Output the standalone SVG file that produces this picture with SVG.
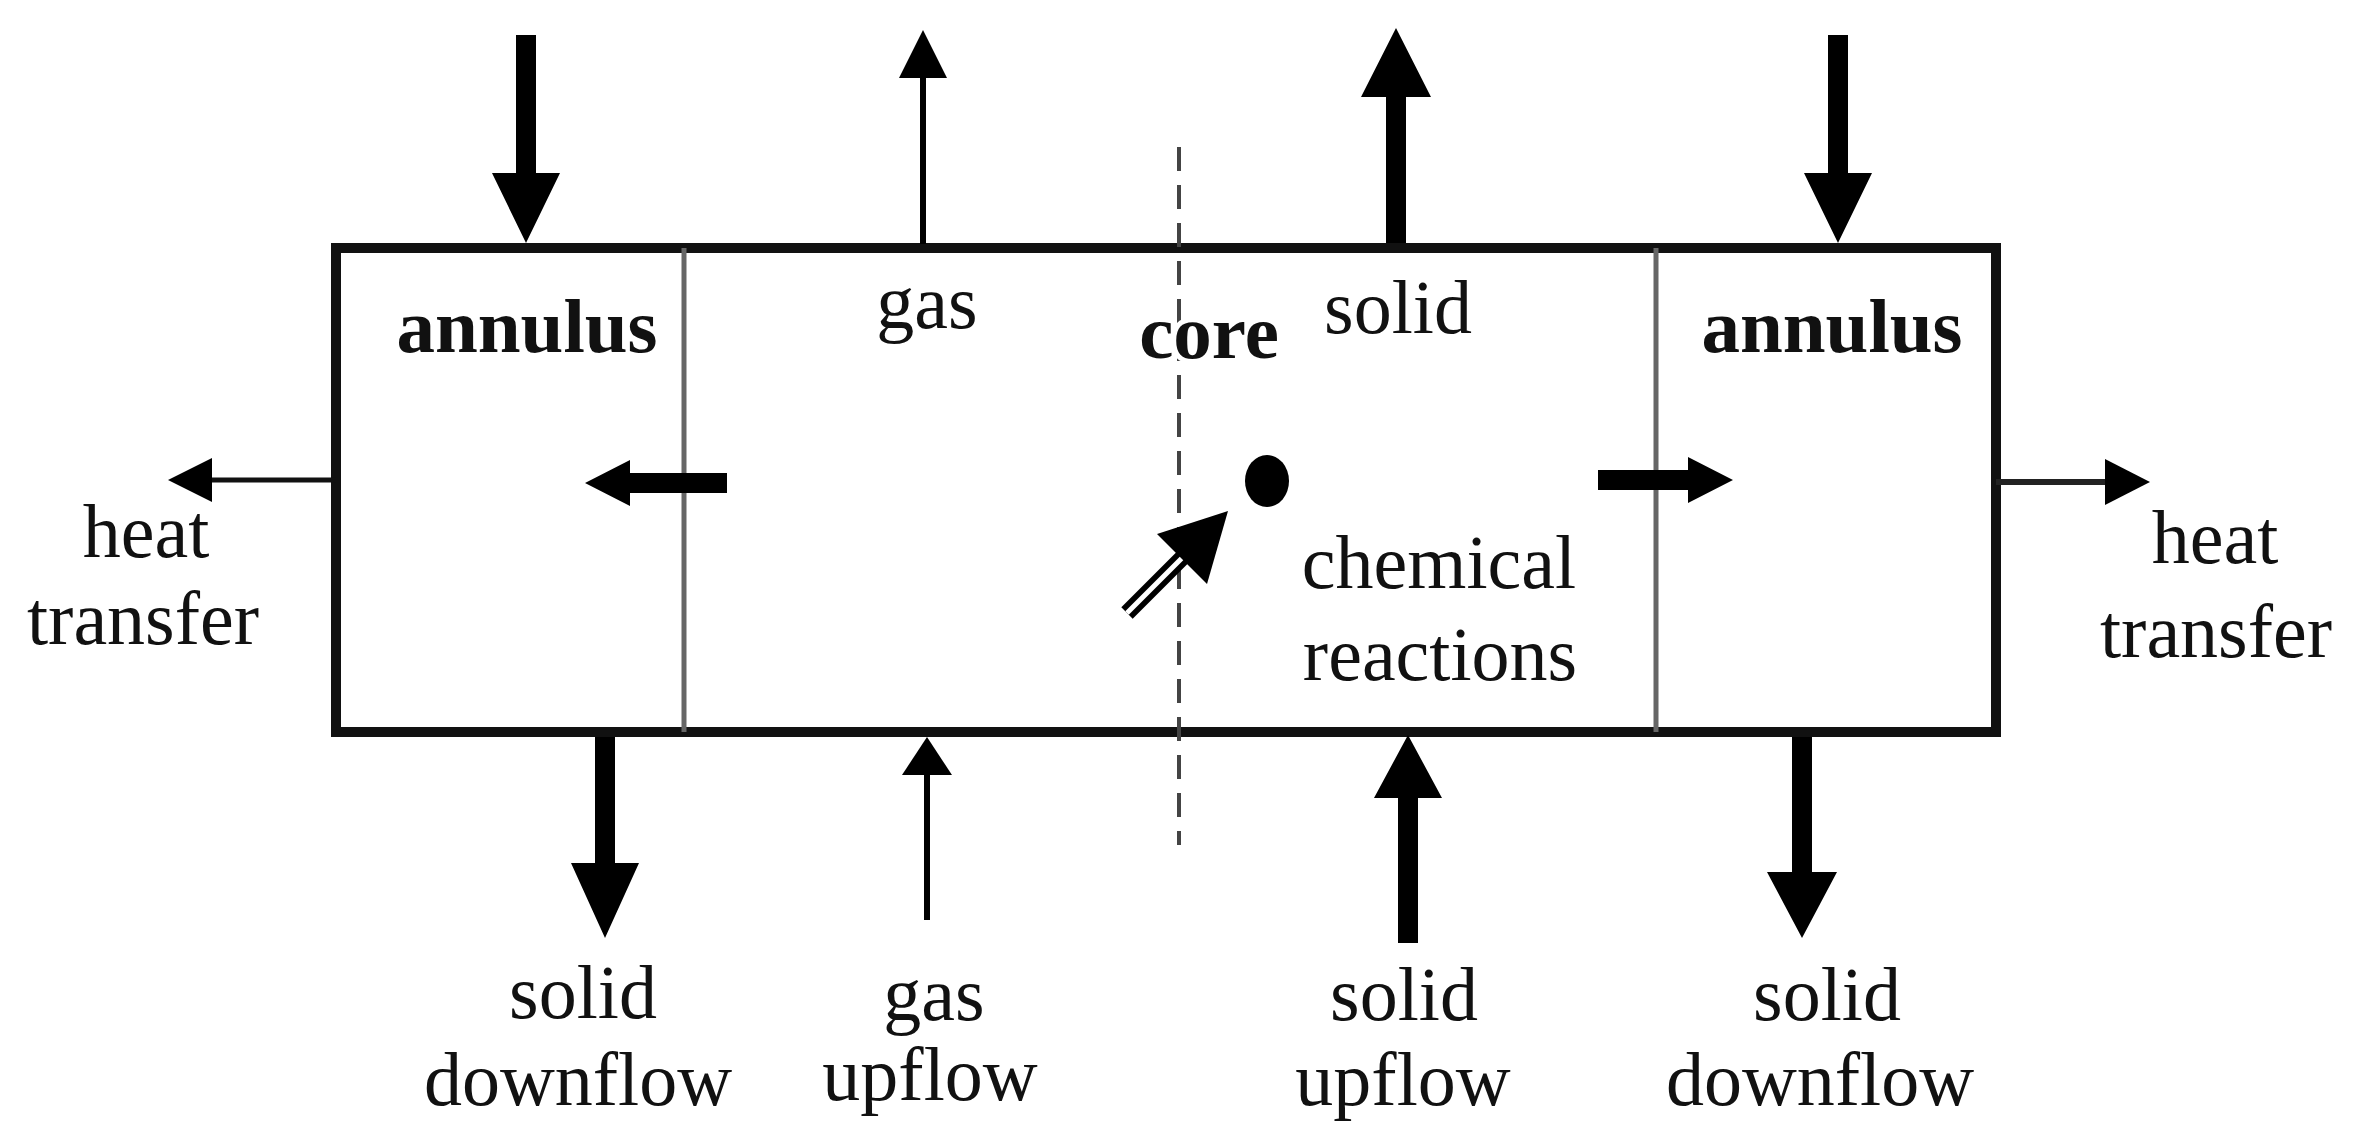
<svg xmlns="http://www.w3.org/2000/svg" width="2360" height="1147" viewBox="0 0 2360 1147">
<style>
  .t { font-family: "Liberation Serif", "Times New Roman", serif; font-size: 76px; fill: #111; text-anchor: middle; }
  .b { font-weight: bold; font-size: 77px; }
  .halo { stroke: #fff; stroke-width: 10px; paint-order: stroke; stroke-linejoin: round; }
  .ar { fill: #000; stroke: none; }
  .thin { stroke: #000; stroke-width: 6; fill: none; }
  .div { stroke: #666; stroke-width: 5; }
</style>
<rect width="2360" height="1147" fill="#fff"/>

<g id="reactor">
  <rect x="336" y="248" width="1660" height="484" fill="none" stroke="#111" stroke-width="10"/>
  <line class="div" x1="684" y1="248" x2="684" y2="732"/>
  <line class="div" x1="1656" y1="248" x2="1656" y2="732"/>
  <line x1="1179" y1="147" x2="1179" y2="845" stroke="#444" stroke-width="4" stroke-dasharray="24 14"/>
</g>

<g id="annulus-left"><text class="t b" x="527" y="352">annulus</text></g>
<g id="annulus-right"><text class="t b" x="1832" y="352">annulus</text></g>
<g id="core"><text class="t b halo" x="1209" y="358">core</text></g>
<g id="gas-label"><text class="t" x="927" y="328">gas</text></g>
<g id="solid-label"><text class="t" x="1398" y="333">solid</text></g>
<g id="chemical-reactions">
  <ellipse cx="1267" cy="481" rx="22" ry="26" fill="#000"/>
  <text class="t" x="1439" y="588">chemical</text>
  <text class="t" x="1440" y="680">reactions</text>
</g>
<g id="heat-left">
  <text class="t" x="146" y="557">heat</text>
  <text class="t" x="143" y="644">transfer</text>
</g>
<g id="heat-right">
  <text class="t" x="2215" y="563">heat</text>
  <text class="t" x="2216" y="657">transfer</text>
</g>
<g id="solid-downflow-left">
  <text class="t" x="583" y="1018">solid</text>
  <text class="t" x="578" y="1105">downflow</text>
</g>
<g id="gas-upflow">
  <text class="t" x="934" y="1020">gas</text>
  <text class="t" x="930" y="1100">upflow</text>
</g>
<g id="solid-upflow">
  <text class="t" x="1404" y="1020">solid</text>
  <text class="t" x="1403" y="1105">upflow</text>
</g>
<g id="solid-downflow-right">
  <text class="t" x="1827" y="1020">solid</text>
  <text class="t" x="1820" y="1105">downflow</text>
</g>

<g id="connectors">
  <!-- top -->
  <polygon class="ar" points="516,35 536,35 536,173 560,173 526,243 492,173 516,173"/>
  <line class="thin" x1="923" y1="244" x2="923" y2="74"/>
  <polygon class="ar" points="899,78 923,30 947,78"/>
  <polygon class="ar" points="1386,243 1386,97 1361,97 1396,28 1431,97 1406,97 1406,243"/>
  <polygon class="ar" points="1828,35 1848,35 1848,173 1872,173 1838,243 1804,173 1828,173"/>
  <!-- bottom -->
  <polygon class="ar" points="595,737 615,737 615,863 639,863 605,938 571,863 595,863"/>
  <line class="thin" x1="927" y1="920" x2="927" y2="772"/>
  <polygon class="ar" points="902,775 927,737 952,775"/>
  <polygon class="ar" points="1398,943 1398,798 1374,798 1408,735 1442,798 1418,798 1418,943"/>
  <polygon class="ar" points="1792,737 1812,737 1812,872 1837,872 1802,938 1767,872 1792,872"/>
  <!-- heat transfer -->
  <line x1="336" y1="480" x2="208" y2="480" stroke="#111" stroke-width="5"/>
  <polygon class="ar" points="212,458 168,480 212,502"/>
  <line x1="1996" y1="482" x2="2108" y2="482" stroke="#222" stroke-width="6"/>
  <polygon class="ar" points="2105,459 2150,482 2105,505"/>
  <!-- internal exchange -->
  <polygon class="ar" points="727,473 727,493 630,493 630,506 585,483 630,460 630,473"/>
  <polygon class="ar" points="1598,470 1688,470 1688,457 1733,480 1688,503 1688,490 1598,490"/>
  <!-- hollow arrow toward reaction -->
  <line x1="1127" y1="613" x2="1186" y2="554" stroke="#000" stroke-width="16"/>
  <line x1="1127" y1="613" x2="1182" y2="558" stroke="#fff" stroke-width="5"/>
  <polygon class="ar" points="1228,511 1157,534 1207,584"/>
</g>
</svg>
